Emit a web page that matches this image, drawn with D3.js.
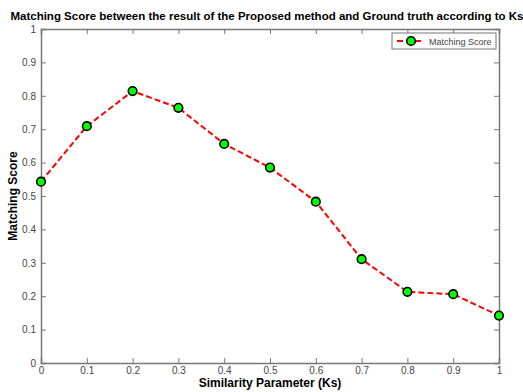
<!DOCTYPE html>
<html>
<head>
<meta charset="utf-8">
<script src="https://cdn.jsdelivr.net/npm/d3@7"></script>
<style>
  body { margin: 0; background: #fff; }
  svg { display: block; font-family: "Liberation Sans", Arial, sans-serif; }
</style>
</head>
<body>
<svg id="chart" width="523" height="392"></svg>
<script>
var ksValues = [0, 0.1, 0.2, 0.3, 0.4, 0.5, 0.6, 0.7, 0.8, 0.9, 1];
var matchingScore = [0.543, 0.709, 0.814, 0.764, 0.656, 0.585, 0.483, 0.311, 0.213, 0.206, 0.142];
var xTicks = [0, 0.1, 0.2, 0.3, 0.4, 0.5, 0.6, 0.7, 0.8, 0.9, 1];
var yTicks = [0, 0.1, 0.2, 0.3, 0.4, 0.5, 0.6, 0.7, 0.8, 0.9, 1];

var svg = d3.select("#chart"),
    margin = {top: 29, right: 24, bottom: 29, left: 41},
    width = 523 - margin.left - margin.right,
    height = 392 - margin.top - margin.bottom,
    g = svg.append("g").attr("transform", "translate(" + margin.left + "," + margin.top + ")");

var axisColor = "#777",
    labelColor = "#444";

var x = d3.scaleLinear().domain([0, 1]).range([0, width]);
var y = d3.scaleLinear().domain([0, 1]).range([height, 0]);

var fmt = function(d) { return d3.format("")(+d.toFixed(1)); };

// bottom and left axes with inward ticks
var xAxis = g.append("g")
    .attr("transform", "translate(0," + height + ")")
    .call(d3.axisBottom(x).tickValues(xTicks).tickSize(-5).tickPadding(6).tickFormat(fmt));
var yAxis = g.append("g")
    .call(d3.axisLeft(y).tickValues(yTicks).tickSize(-5).tickPadding(5).tickFormat(fmt));
// top and right (box)
var xTop = g.append("g")
    .call(d3.axisTop(x).tickValues(xTicks).tickSize(-5).tickFormat(""));
var yRight = g.append("g")
    .attr("transform", "translate(" + width + ",0)")
    .call(d3.axisRight(y).tickValues(yTicks).tickSize(-5).tickFormat(""));

[xAxis, yAxis, xTop, yRight].forEach(function(a) {
  a.select(".domain").attr("stroke", axisColor).attr("stroke-width", 1.5);
  a.selectAll(".tick line").attr("stroke", axisColor).attr("stroke-width", 1);
  a.selectAll(".tick text").attr("fill", labelColor).style("font-size", "10px");
});
xAxis.selectAll(".tick text").attr("dy", "0.5em");

// line
var line = d3.line()
    .x(function(d, i) { return x(ksValues[i]); })
    .y(function(d) { return y(d); });

g.append("path")
    .datum(matchingScore)
    .attr("fill", "none")
    .attr("stroke", "#ff0000")
    .attr("stroke-width", 2)
    .attr("stroke-dasharray", "6,3")
    .attr("d", line);

g.selectAll(".pt")
    .data(matchingScore)
  .enter().append("circle")
    .attr("class", "pt")
    .attr("cx", function(d, i) { return x(ksValues[i]); })
    .attr("cy", function(d) { return y(d); })
    .attr("r", 4.3)
    .attr("fill", "#00ff00")
    .attr("stroke", "#000")
    .attr("stroke-width", 1.6);

// title & labels
svg.append("text")
    .attr("x", 267).attr("y", 20)
    .attr("text-anchor", "middle")
    .style("font-size", "11.5px").style("font-weight", "bold")
    .text("Matching Score between the result of the Proposed method and Ground truth according to Ks");

svg.append("text")
    .attr("x", 270).attr("y", 387)
    .attr("text-anchor", "middle")
    .style("font-size", "12px").style("font-weight", "bold")
    .text("Similarity Parameter (Ks)");

svg.append("text")
    .attr("transform", "translate(17," + (margin.top + height / 2) + ") rotate(-90)")
    .attr("text-anchor", "middle")
    .style("font-size", "12px").style("font-weight", "bold")
    .text("Matching Score");

// legend
var legend = svg.append("g").attr("transform", "translate(392,33)");
legend.append("rect")
    .attr("width", 104).attr("height", 16)
    .attr("fill", "#fff").attr("stroke", axisColor).attr("stroke-width", 1);
legend.append("line")
    .attr("x1", 5).attr("x2", 32).attr("y1", 8).attr("y2", 8)
    .attr("stroke", "#ff0000").attr("stroke-width", 2).attr("stroke-dasharray", "6,3");
legend.append("circle")
    .attr("cx", 19).attr("cy", 8).attr("r", 4.3)
    .attr("fill", "#00ff00").attr("stroke", "#000").attr("stroke-width", 1.6);
legend.append("text")
    .attr("x", 37).attr("y", 11.5)
    .attr("fill", labelColor)
    .style("font-size", "9px")
    .text("Matching Score");
</script>
</body>
</html>
